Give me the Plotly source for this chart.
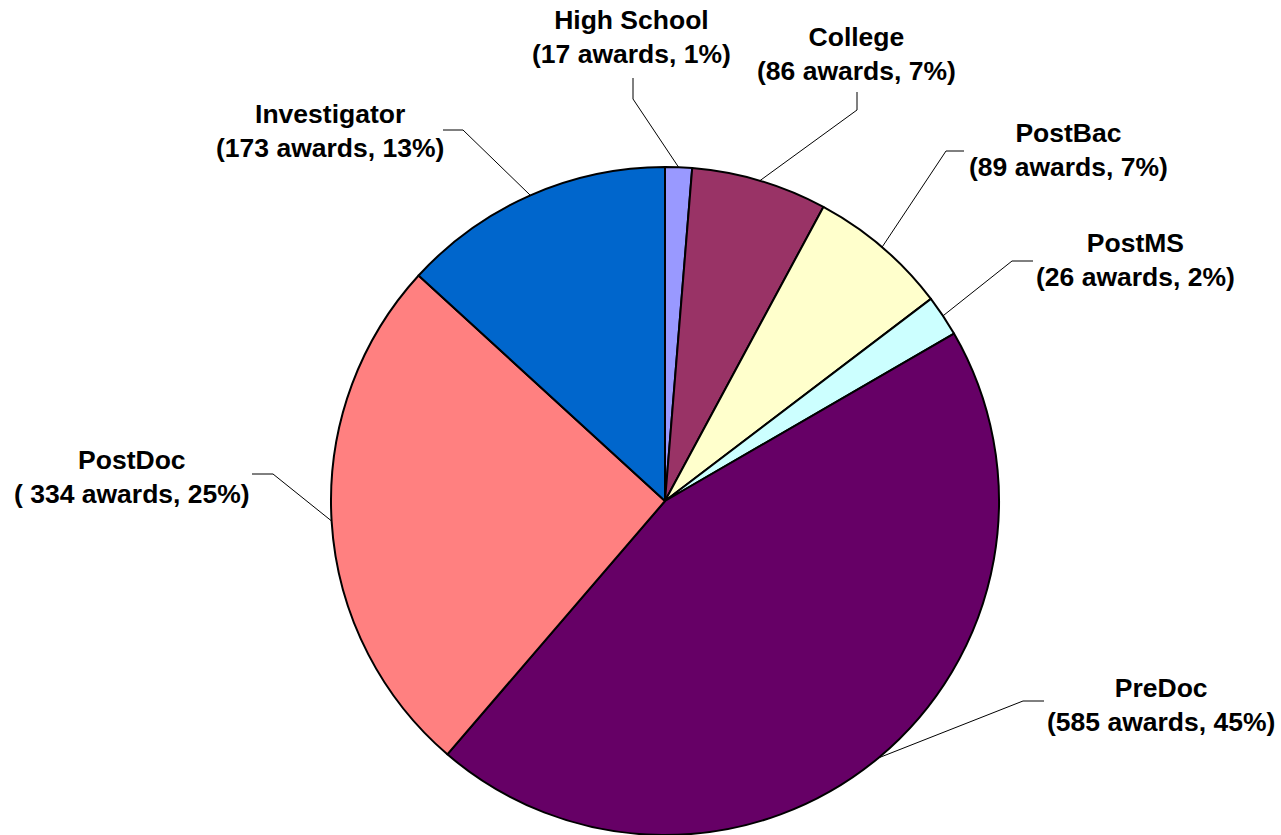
import math
import plotly.graph_objects as go

# data (clockwise from 12 o'clock)
levels = ["High School", "College", "PostBac", "PostMS", "PreDoc", "PostDoc", "Investigator"]
awards = [17, 86, 89, 26, 585, 334, 173]
pct_labels = ["1%", "7%", "7%", "2%", "45%", "25%", "13%"]
colors = ["#9999FF", "#993366", "#FFFFCC", "#CCFFFF", "#660066", "#FF8080", "#0066CC"]

W, H = 1281, 835
# pie placement in pixels
cx, cy, r = 665, 501, 334

# label centres and leader elbows in pixels (layout only)
label_pos = {
    "High School": (631, 37),
    "College": (856, 54),
    "PostBac": (1068, 150),
    "PostMS": (1135, 260),
    "PreDoc": (1161, 705),
    "PostDoc": (132, 477),
    "Investigator": (330, 131),
}
elbows = {
    "High School": [(633, 78), (633, 99)],
    "College": [(857, 92), (857, 110)],
    "PostBac": [(964, 151), (946, 151)],
    "PostMS": [(1033, 261), (1012, 261)],
    "PreDoc": [(1044, 701), (1023, 701)],
    "PostDoc": [(252, 474), (273, 474)],
    "Investigator": [(443, 130), (463, 130)],
}


def px(x):
    return x / W


def py(y):
    return 1 - y / H


fig = go.Figure()
fig.add_trace(go.Pie(
    labels=levels, values=awards, sort=False, direction="clockwise", rotation=0,
    marker=dict(colors=colors, line=dict(color="black", width=2)),
    textinfo="none", hoverinfo="label+value+percent", showlegend=False,
    domain=dict(x=[px(cx - r), px(cx + r)], y=[max(0, py(cy + r)), py(cy - r)]),
))

total = sum(awards)
cum = 0
for name, v, p in zip(levels, awards, pct_labels):
    mid = (cum + v / 2) / total * 2 * math.pi
    cum += v
    ex, ey = cx + r * math.sin(mid), cy - r * math.cos(mid)
    (x0, y0), (x1, y1) = elbows[name]
    fig.add_shape(type="path", xref="paper", yref="paper",
                  path=f"M {px(x0)},{py(y0)} L {px(x1)},{py(y1)} L {px(ex)},{py(ey)}",
                  line=dict(color="black", width=1))
    sp = " " if name == "PostDoc" else ""
    lx, ly = label_pos[name]
    fig.add_annotation(x=px(lx), y=py(ly), xref="paper", yref="paper",
                       text=f"<b>{name}<br>({sp}{v} awards, {p})</b>",
                       showarrow=False, xanchor="center", yanchor="middle", borderpad=0,
                       font=dict(family="Liberation Sans, Arial", size=26.5, color="black"))

fig.update_layout(width=W, height=H, margin=dict(l=0, r=0, t=0, b=0),
                  paper_bgcolor="white", plot_bgcolor="white")
fig.write_html("out.html", config={"displayModeBar": False},
               post_script="document.body.style.margin='0';")
